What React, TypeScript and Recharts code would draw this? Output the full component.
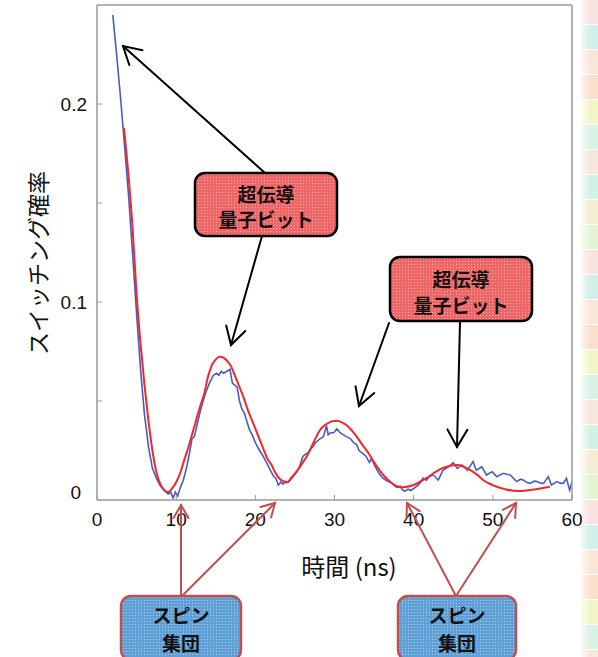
import { LineChart, Line, XAxis, YAxis } from 'recharts'

// experimental (blue, noisy) trace
const blueTime = [
  2.0, 2.5, 3.0, 3.5, 4.0, 4.5, 5.0, 5.5, 6.0, 6.5, 7.0, 7.5, 8.0, 8.5, 9.0, 9.3, 9.6, 9.9, 10.2, 10.5,
  10.9, 11.3, 11.7, 12.0, 12.3, 12.7, 13.0, 13.4, 13.8, 14.2, 14.7, 15.1, 15.4, 15.7, 16.0, 16.4, 16.8, 17.1, 17.4, 17.7,
  18.0, 18.3, 18.6, 18.9, 19.3, 19.6, 20.0, 20.4, 20.7, 21.0, 21.4, 21.9, 22.3, 22.6, 22.9, 23.2, 23.5, 23.8, 24.1, 24.4,
  24.8, 25.2, 25.6, 26.0, 26.3, 26.7, 27.0, 27.3, 27.6, 27.9, 28.2, 28.6, 29.0, 29.2, 29.5, 29.9, 30.3, 30.7, 31.1, 31.5,
  32.0, 32.4, 32.8, 33.1, 33.4, 33.7, 34.0, 34.4, 34.7, 35.0, 35.4, 35.7, 36.1, 36.5, 37.0, 37.4, 37.8, 38.3, 38.6, 38.9,
  39.3, 39.6, 40.0, 40.4, 40.8, 41.2, 41.6, 42.0, 42.5, 43.1, 43.7, 44.4, 45.0, 45.5, 46.1, 46.8, 47.5, 47.9, 48.6, 49.2,
  49.9, 50.5, 51.3, 52.2, 53.0, 53.5, 53.9, 54.3, 54.7, 55.2, 55.6, 56.0, 56.4, 57.0, 57.4, 58.1, 58.5, 58.9, 59.3, 59.7, 60.0,
]
const blueValue = [
  0.245, 0.224, 0.202, 0.178, 0.153, 0.124, 0.094, 0.066, 0.043, 0.027, 0.016, 0.011, 0.007, 0.005, 0.003, 0.004, 0.001, 0.004, 0.002, 0.006,
  0.01, 0.016, 0.024, 0.031, 0.032, 0.039, 0.044, 0.05, 0.055, 0.059, 0.063, 0.064, 0.063, 0.065, 0.064, 0.065, 0.066, 0.059, 0.058, 0.057,
  0.05, 0.046, 0.044, 0.04, 0.035, 0.033, 0.029, 0.026, 0.024, 0.022, 0.019, 0.015, 0.012, 0.011, 0.0075, 0.009, 0.008, 0.0095, 0.009, 0.01,
  0.012, 0.014, 0.017, 0.022, 0.023, 0.024, 0.026, 0.027, 0.029, 0.03, 0.031, 0.032, 0.0375, 0.033, 0.034, 0.034, 0.036, 0.034, 0.033, 0.032,
  0.031, 0.029, 0.028, 0.025, 0.024, 0.023, 0.022, 0.019, 0.021, 0.018, 0.015, 0.013, 0.011, 0.01, 0.009, 0.008, 0.0065, 0.007, 0.005, 0.0045,
  0.0055, 0.0048, 0.0058, 0.007, 0.0085, 0.011, 0.01, 0.012, 0.0126, 0.01, 0.015, 0.0168, 0.0189, 0.016, 0.0177, 0.015, 0.0194, 0.015, 0.0168, 0.0126,
  0.0143, 0.0118, 0.0135, 0.0126, 0.0093, 0.0105, 0.01, 0.0088, 0.0084, 0.0095, 0.0093, 0.0085, 0.0084, 0.0118, 0.0076, 0.0093, 0.0085, 0.0084, 0.011, 0.005, 0.0093,
]

// theory (red, smooth) trace
const redTime = [
  3.4, 4.0, 4.5, 5.0, 5.5, 6.0, 6.5, 7.0, 7.5, 8.0, 8.5, 9.0, 9.5, 10.0, 10.5, 11.0, 11.5, 12.0, 12.5, 13.0,
  13.5, 14.0, 14.5, 15.0, 15.5, 16.0, 16.5, 17.0, 17.5, 18.0, 18.5, 19.0, 19.5, 20.0, 20.5, 21.0, 21.5, 22.0, 22.5, 23.0,
  23.5, 24.0, 24.5, 25.2, 26.0, 26.5, 27.0, 27.7, 28.3, 29.0, 29.7, 30.35, 31.0, 31.5, 32.2, 32.8, 33.5, 34.3, 35.0, 35.7,
  36.3, 37.0, 37.7, 38.3, 39.0, 40.0, 40.8, 41.6, 42.5, 43.3, 44.2, 45.0, 45.6, 46.3, 47.1, 48.0, 48.8, 49.6, 50.5, 51.5,
  52.6, 53.6, 54.7, 56.0, 57.2,
]
const redValue = [
  0.188, 0.163, 0.137, 0.104, 0.079, 0.058, 0.04, 0.025, 0.014, 0.008, 0.005, 0.004, 0.006, 0.009, 0.0135, 0.02, 0.026, 0.033, 0.04, 0.047,
  0.053, 0.062, 0.068, 0.071, 0.0724, 0.0718, 0.07, 0.067, 0.062, 0.057, 0.052, 0.046, 0.041, 0.036, 0.031, 0.026, 0.021, 0.018, 0.014, 0.011,
  0.0095, 0.0088, 0.011, 0.0143, 0.019, 0.022, 0.026, 0.032, 0.036, 0.0384, 0.0398, 0.04, 0.039, 0.0379, 0.035, 0.032, 0.028, 0.0236, 0.019, 0.015,
  0.012, 0.0093, 0.0072, 0.0064, 0.0066, 0.0076, 0.0093, 0.011, 0.0135, 0.0155, 0.0168, 0.0175, 0.0177, 0.0168, 0.0152, 0.0128, 0.01, 0.0082, 0.0067, 0.0055,
  0.0047, 0.0046, 0.005, 0.0058, 0.0067,
]

const xTicks = [0, 10, 20, 30, 40, 50, 60]
const yTicks = [0, 0.05, 0.1, 0.15, 0.2]
const yLabelled = [0, 0.1, 0.2]

const blueData = blueTime.map((t, i) => ({ t, v: blueValue[i] }))
const redData = redTime.map((t, i) => ({ t, v: redValue[i] }))

const FONT = '"Liberation Sans", Arial, "Noto Sans CJK JP", sans-serif'
const JP = '"Noto Sans CJK JP", "Liberation Sans", sans-serif'
const FRAME = '#9a9a9a'

function YTick(props: any) {
  const { x, y, payload } = props
  const v = payload.value
  if (!yLabelled.includes(v)) return null
  const zero = v === 0
  return (
    <text x={zero ? x - 6 : x} y={zero ? y - 8 : y} textAnchor="end" dominantBaseline="central"
      fontSize={19} fontFamily={FONT} fill="#111">
      {String(v)}
    </text>
  )
}

function Arrow({ x1, y1, x2, y2, color, len = 20, w = 0.52, sw = 2 }: any) {
  const a = Math.atan2(y2 - y1, x2 - x1)
  const p1 = [x2 - len * Math.cos(a - w), y2 - len * Math.sin(a - w)]
  const p2 = [x2 - len * Math.cos(a + w), y2 - len * Math.sin(a + w)]
  return (
    <g stroke={color} strokeWidth={sw} fill="none" strokeLinecap="round">
      <line x1={x1} y1={y1} x2={x2} y2={y2} />
      <polyline points={`${p1[0]},${p1[1]} ${x2},${y2} ${p2[0]},${p2[1]}`} />
    </g>
  )
}

function Box({ x, y, w, h, fill, stroke, lines, cy }: any) {
  return (
    <g>
      <rect x={x} y={y} width={w} height={h} rx={10} fill={fill} stroke={stroke} strokeWidth={2.5} />
      {lines.map((s: string, i: number) => (
        <text key={i} x={x + w / 2} y={cy[i]} textAnchor="middle" dominantBaseline="central"
          fontSize={19} fontWeight="bold" fontFamily={JP} fill="#111">
          {s}
        </text>
      ))}
    </g>
  )
}

const stripeColors = ['#f6d6d6', '#bfe8e0', '#f8dcc8', '#f9d2b8', '#eef3b0', '#c8ecd8', '#f4dccc', '#c0ecdc', '#f0e6c0', '#d8f0c0']

export default function App() {
  return (
    <div style={{ position: 'absolute', left: 0, top: 0, width: 598, height: 657, background: '#fff', overflow: 'hidden' }}>
      <svg width={598} height={657} style={{ position: 'absolute', left: 0, top: 0 }}>
        <defs>
          <linearGradient id="fade" x1="0" x2="1" y1="0" y2="0">
            <stop offset="0" stopColor="#fff" stopOpacity={1} />
            <stop offset="0.6" stopColor="#fff" stopOpacity={0} />
          </linearGradient>
        </defs>
        {Array.from({ length: 27 }).map((_, i) => (
          <rect key={i} x={580 + (i % 3)} y={i * 25} width={18} height={24}
            fill={stripeColors[i % stripeColors.length]} opacity={0.7} />
        ))}
        <rect x={578} y={0} width={20} height={657} fill="url(#fade)" />
      </svg>
      <div style={{ position: 'absolute', left: 0, top: 0 }}>
        <LineChart width={598} height={657} margin={{ top: 4, right: 25, bottom: 127, left: 37 }}>
          <XAxis xAxisId="b" type="number" dataKey="t" domain={[0, 60]} ticks={xTicks} allowDataOverflow
            axisLine={{ stroke: FRAME, strokeWidth: 1.5 }} tickLine={{ stroke: FRAME }} tickSize={-5} tickMargin={18}
            height={30} tick={{ fill: '#111', fontSize: 19, fontFamily: FONT }} />
          <XAxis xAxisId="t" orientation="top" type="number" dataKey="t" domain={[0, 60]} ticks={xTicks} allowDataOverflow
            axisLine={{ stroke: FRAME, strokeWidth: 1.5 }} tickLine={{ stroke: FRAME }} tickSize={-5} tick={false} height={1} />
          <YAxis yAxisId="l" type="number" domain={[0, 0.25]} ticks={yTicks} allowDataOverflow width={60}
            axisLine={{ stroke: FRAME, strokeWidth: 1.5 }} tickLine={{ stroke: FRAME }} tickSize={-5} tickMargin={15}
            tick={<YTick />} />
          <YAxis yAxisId="r" orientation="right" type="number" domain={[0, 0.25]} ticks={yTicks} allowDataOverflow width={1}
            axisLine={{ stroke: FRAME, strokeWidth: 1.5 }} tickLine={{ stroke: FRAME }} tickSize={-5} tick={false} />
          <Line xAxisId="b" yAxisId="l" data={blueData} dataKey="v" type="linear" stroke="#4a5cc0"
            strokeWidth={1.6} dot={false} isAnimationActive={false} />
          <Line xAxisId="b" yAxisId="l" data={redData} dataKey="v" type="monotone" stroke="#f0282c"
            strokeWidth={2} dot={false} isAnimationActive={false} />
        </LineChart>
      </div>
      <svg width={598} height={657} style={{ position: 'absolute', left: 0, top: 0, pointerEvents: 'none' }}>
        <defs>
          <pattern id="pinkDots" width="3" height="3" patternUnits="userSpaceOnUse">
            <rect width="3" height="3" fill="#f36464" />
            <rect width="1" height="1" fill="#fbb4b4" />
          </pattern>
          <pattern id="blueDots" width="3" height="3" patternUnits="userSpaceOnUse">
            <rect width="3" height="3" fill="#5f9fd8" />
            <rect width="1" height="1" fill="#b2d3f0" />
          </pattern>
        </defs>
        <text x={37} y={263} transform="rotate(-90 37 263)" textAnchor="middle" dominantBaseline="central"
          fontSize={23} fontFamily={JP} fill="#111">スイッチング確率</text>
        <text x={349} y={565} textAnchor="middle" dominantBaseline="central" fontSize={24} fontFamily={JP} fill="#111">
          時間 (ns)
        </text>

        <Arrow x1={265} y1={173} x2={123} y2={46} color="#000" />
        <Arrow x1={262} y1={236} x2={231} y2={345} color="#000" />
        <Arrow x1={389} y1={323} x2={359} y2={406} color="#000" />
        <Arrow x1={460} y1={322} x2={457} y2={447} color="#000" />
        <Box x={195} y={173} w={142} h={63} fill="url(#pinkDots)" stroke="#000" lines={['超伝導', '量子ビット']} cy={[193, 218]} />
        <Box x={390} y={257} w={142} h={64} fill="url(#pinkDots)" stroke="#000" lines={['超伝導', '量子ビット']} cy={[278, 304]} />

        <Arrow x1={181} y1={596} x2={181} y2={505} color="#c0504d" len={15} />
        <Arrow x1={182} y1={596} x2={275} y2={503} color="#c0504d" len={15} />
        <Arrow x1={456} y1={596} x2={407} y2={503} color="#c0504d" len={15} />
        <Arrow x1={456} y1={596} x2={516} y2={503} color="#c0504d" len={15} />
        <Box x={121} y={596} w={120} h={64} fill="url(#blueDots)" stroke="#c0504d" lines={['スピン', '集団']} cy={[614, 642]} />
        <Box x={398} y={596} w={118} h={64} fill="url(#blueDots)" stroke="#c0504d" lines={['スピン', '集団']} cy={[614, 642]} />
      </svg>
    </div>
  )
}
